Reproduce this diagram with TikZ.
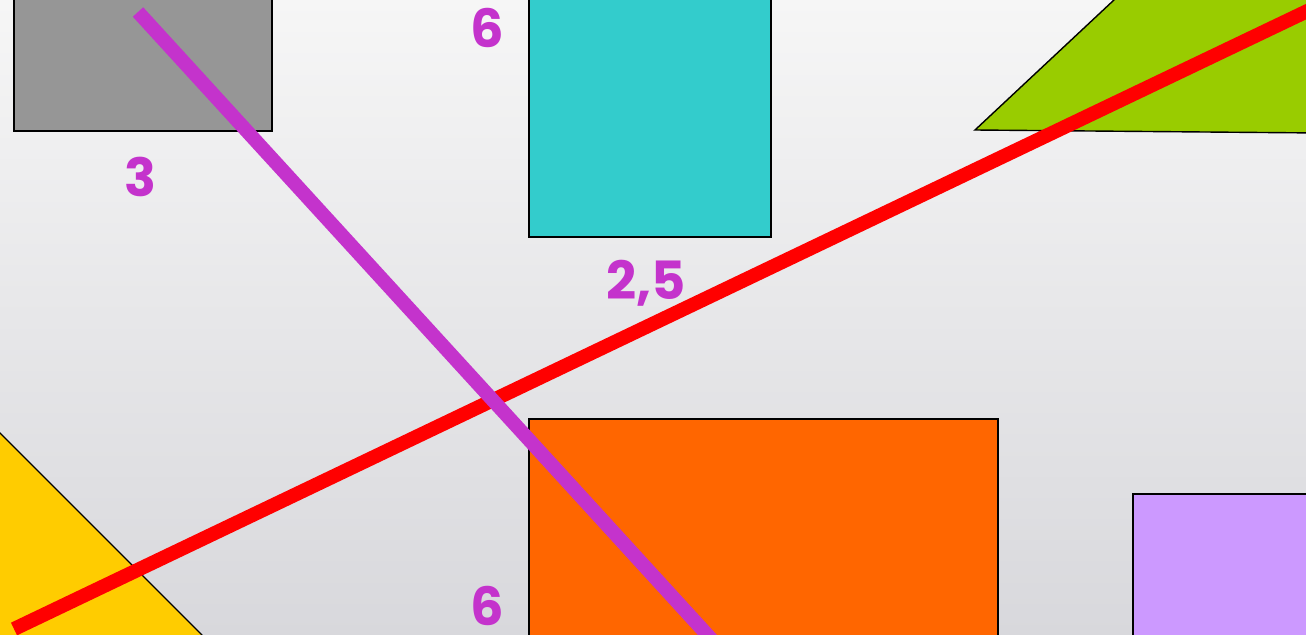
\documentclass[tikz,border=0pt]{standalone}
\usepackage{fontspec}
\setmainfont{Poppins}
\usepackage{xcolor}
\usepackage{tikz}
\usetikzlibrary{positioning}
\definecolor{bgtop}{HTML}{F6F6F6}
\definecolor{bgbottom}{HTML}{D8D8DC}
\definecolor{greyfill}{HTML}{969696}
\definecolor{cyanfill}{HTML}{33CCCC}
\definecolor{limefill}{HTML}{99CC00}
\definecolor{yellowfill}{HTML}{FFCC00}
\definecolor{orangefill}{HTML}{FF6600}
\definecolor{lilacfill}{HTML}{CC99FF}
\definecolor{numcolor}{HTML}{C433CC}
\tikzset{
figbox/.style={
draw=black,
line width=0.8pt
},
sizelabel/.style={
text=numcolor,
font=\fontsize{30}{36}\selectfont\bfseries,
inner sep=0pt
},
cutline/.style={
line width=8pt,
line cap=butt
}
}

\begin{document}
\begin{tikzpicture}[x=0.02cm,y=-0.02cm]
\useasboundingbox (0,0) rectangle (1306,635);
\shade[top color=bgtop,bottom color=bgbottom] (0,0) rectangle (1306,635);
\begin{scope}
\clip (0,0) rectangle (1306,635);
\filldraw[figbox,fill=greyfill] (14,-10) rectangle (272,131);
\filldraw[figbox,fill=cyanfill] (529,-10) rectangle (771,237);
\filldraw[figbox,fill=limefill] (975,130) -- (1130,-15) -- (1320,-15) -- (1320,133) -- cycle;
\filldraw[figbox,fill=yellowfill] (-10,423) -- (202,635) -- (202,650) -- (-10,650) -- cycle;
\filldraw[figbox,fill=orangefill] (529,419) rectangle (998,650);
\filldraw[figbox,fill=lilacfill] (1133,494) rectangle (1320,650);

\node[sizelabel](three) at (140,177){3};
\node[sizelabel](sixtop) at (487,28){6};
\node[sizelabel](twofive) at (646,283){2,5};
\node[sizelabel](sixbottom) at (487,606){6};

\draw[cutline,red] (14,629) -- (1320,5);
\draw[cutline,numcolor] (138,12) -- (712,640);
\end{scope}
\end{tikzpicture}
\end{document}
